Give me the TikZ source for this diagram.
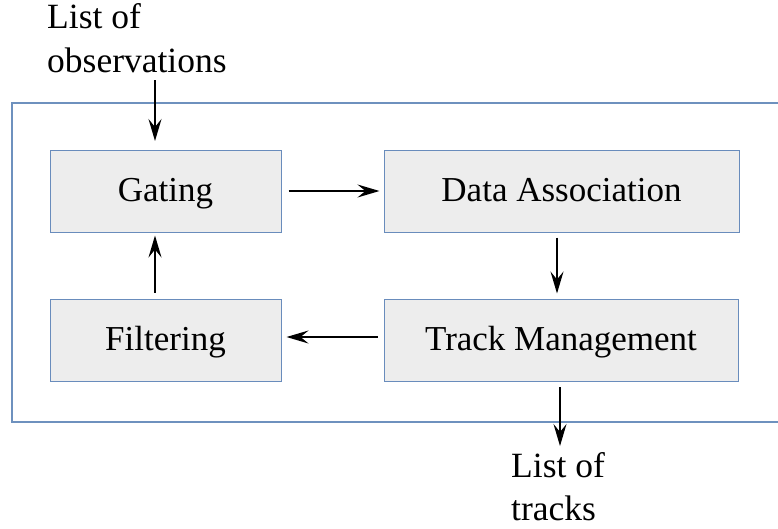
\documentclass[tikz,border=0pt]{standalone}
\usepackage{fontspec}
\setmainfont{Liberation Serif}
\usetikzlibrary{arrows.meta}
\definecolor{boxline}{RGB}{105,140,188}
\definecolor{frameline}{RGB}{110,145,190}
\definecolor{boxfill}{RGB}{237,237,237}
\tikzset{
  procbox/.style={draw=boxline, line width=1pt, fill=boxfill, minimum height=82pt, inner sep=0pt, text height=24pt, text depth=4pt, font=\fontsize{35}{40}\selectfont},
  lbl/.style={inner sep=0pt, anchor=base west, font=\fontsize{35.5}{40}\selectfont},
  arr/.style={line width=1.6pt, -{Stealth[length=22pt,width=13pt,inset=8pt]}}
}
\begin{document}
\begin{tikzpicture}[x=1pt,y=-1pt]
\useasboundingbox (0,0) rectangle (778,528);
\draw[frameline, line width=1.2pt] (778,103) -- (12,103) -- (12,422) -- (778,422);
\node[procbox, minimum width=231pt] (gating) at (165.5,191) {Gating};
\node[procbox, minimum width=355pt] (data) at (561.5,191) {Data Association};
\node[procbox, minimum width=231pt] (filter) at (165.5,340) {Filtering};
\node[procbox, minimum width=354pt] (track) at (561,340) {Track Management};
\node[lbl] (obs1) at (47,28) {List of};
\node[lbl] (obs2) at (47,72) {observations};
\node[lbl] (trk1) at (511,477) {List of};
\node[lbl] (trk2) at (511,520) {tracks};
\coordinate (inA) at (155,80);
\coordinate (inB) at (155,141);
\coordinate (outA) at (560,387);
\coordinate (outB) at (560,446);
\draw[arr] (inA) -- (inB);
\draw[arr] ([xshift=7pt]gating.east) -- ([xshift=-4pt]data.west);
\draw[arr] ([xshift=-4.5pt,yshift=-5pt]data.south) -- ([xshift=-4pt,yshift=5pt]track.north);
\draw[arr] ([xshift=-6pt,yshift=3pt]track.west) -- ([xshift=5pt,yshift=3pt]filter.east);
\draw[arr] ([xshift=-10.5pt,yshift=6pt]filter.north) -- ([xshift=-10.5pt,yshift=-3pt]gating.south);
\draw[arr] (outA) -- (outB);
\end{tikzpicture}
\end{document}
